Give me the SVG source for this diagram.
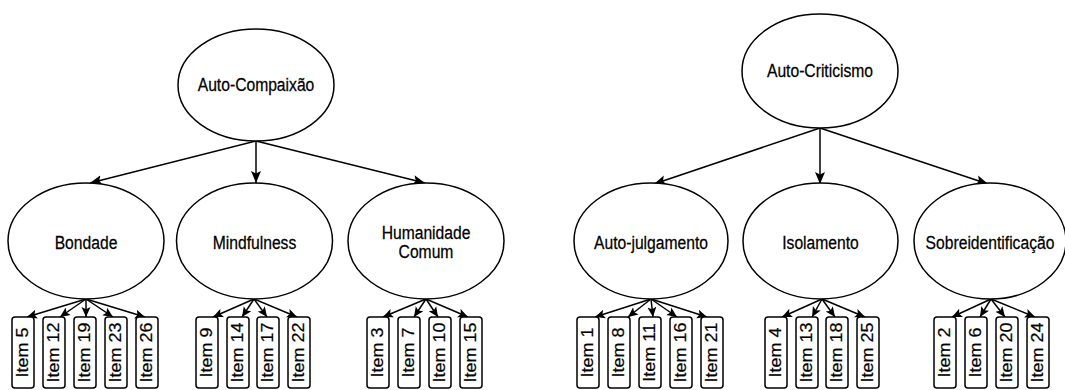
<svg xmlns="http://www.w3.org/2000/svg" width="1065" height="390" viewBox="0 0 1065 390">
  <style>
    .latent { fill: #ffffff; stroke: #000000; stroke-width: 1.5; }
    .item { fill: #ffffff; stroke: #000000; stroke-width: 1.5; }
    .lbl { font-family: "Liberation Sans", Arial, sans-serif; font-size: 18px; fill: #000000; stroke: #000000; stroke-width: 0.25; text-anchor: middle; dominant-baseline: central; }
    .edge { fill: none; stroke: #000000; stroke-width: 1.5; }
    .big { marker-end: url(#headBig); }
    .small { marker-end: url(#headSmall); }
  </style>
  <defs>
    <marker id="headBig" markerUnits="userSpaceOnUse" markerWidth="13" markerHeight="11" refX="12" refY="5.5" orient="auto">
      <path d="M0,0.5 L12,5.5 L0,10.5 L2.5,5.5 Z" fill="#000000"/>
    </marker>
    <marker id="headSmall" markerUnits="userSpaceOnUse" markerWidth="11" markerHeight="10" refX="10" refY="5" orient="auto">
      <path d="M0,0.5 L10,5 L0,9.5 L2.2,5 Z" fill="#000000"/>
    </marker>
  </defs>

  <!-- connectors -->
  <g id="connectors">
    <!-- Auto-Compaixão to its facets -->
    <line class="edge big" x1="256" y1="141" x2="90" y2="183"/>
    <line class="edge big" x1="256" y1="141" x2="256" y2="183"/>
    <line class="edge big" x1="256" y1="141" x2="425" y2="183"/>
    <!-- Auto-Criticismo to its facets -->
    <line class="edge big" x1="820" y1="128" x2="654" y2="184"/>
    <line class="edge big" x1="820" y1="128" x2="820" y2="184"/>
    <line class="edge big" x1="820" y1="128" x2="988" y2="184"/>
    <!-- Bondade items -->
    <line class="edge small" x1="86" y1="299" x2="27" y2="317"/>
    <line class="edge small" x1="86" y1="299" x2="60" y2="317"/>
    <line class="edge small" x1="86" y1="299" x2="86" y2="317"/>
    <line class="edge small" x1="86" y1="299" x2="113" y2="317"/>
    <line class="edge small" x1="86" y1="299" x2="145" y2="317"/>
    <!-- Mindfulness items -->
    <line class="edge small" x1="254" y1="299" x2="213" y2="317"/>
    <line class="edge small" x1="254" y1="299" x2="242" y2="317"/>
    <line class="edge small" x1="254" y1="299" x2="267" y2="317"/>
    <line class="edge small" x1="254" y1="299" x2="297" y2="317"/>
    <!-- Humanidade Comum items -->
    <line class="edge small" x1="426" y1="299" x2="383" y2="317"/>
    <line class="edge small" x1="426" y1="299" x2="414" y2="317"/>
    <line class="edge small" x1="426" y1="299" x2="438" y2="317"/>
    <line class="edge small" x1="426" y1="299" x2="468" y2="317"/>
    <!-- Auto-julgamento items -->
    <line class="edge small" x1="651" y1="299" x2="595" y2="317"/>
    <line class="edge small" x1="651" y1="299" x2="628" y2="317"/>
    <line class="edge small" x1="651" y1="299" x2="653" y2="317"/>
    <line class="edge small" x1="651" y1="299" x2="677" y2="317"/>
    <line class="edge small" x1="651" y1="299" x2="707" y2="317"/>
    <!-- Isolamento items -->
    <line class="edge small" x1="822" y1="299" x2="782" y2="317"/>
    <line class="edge small" x1="822" y1="299" x2="812" y2="317"/>
    <line class="edge small" x1="822" y1="299" x2="835" y2="317"/>
    <line class="edge small" x1="822" y1="299" x2="865" y2="317"/>
    <!-- Sobreidentificação items -->
    <line class="edge small" x1="991" y1="299" x2="952" y2="317"/>
    <line class="edge small" x1="991" y1="299" x2="980" y2="317"/>
    <line class="edge small" x1="991" y1="299" x2="1005" y2="317"/>
    <line class="edge small" x1="991" y1="299" x2="1035" y2="317"/>
  </g>

  <!-- second-order factors -->
  <g id="auto-compaixao">
    <ellipse class="latent" cx="256" cy="85" rx="78" ry="56"/>
    <text class="lbl" transform="translate(256 85) scale(0.87 1)">Auto-Compaixão</text>
  </g>
  <g id="auto-criticismo">
    <ellipse class="latent" cx="820" cy="71" rx="78" ry="57"/>
    <text class="lbl" transform="translate(820 71) scale(0.87 1)">Auto-Criticismo</text>
  </g>

  <!-- first-order factors -->
  <g id="bondade">
    <ellipse class="latent" cx="86" cy="241" rx="78" ry="58"/>
    <text class="lbl" transform="translate(86 243) scale(0.87 1)">Bondade</text>
  </g>
  <g id="mindfulness">
    <ellipse class="latent" cx="254.5" cy="241" rx="78" ry="58"/>
    <text class="lbl" transform="translate(254.5 243) scale(0.87 1)">Mindfulness</text>
  </g>
  <g id="humanidade-comum">
    <ellipse class="latent" cx="426" cy="241" rx="78" ry="58"/>
    <text class="lbl" transform="translate(426 233) scale(0.87 1)">Humanidade</text>
    <text class="lbl" transform="translate(426 252) scale(0.87 1)">Comum</text>
  </g>
  <g id="auto-julgamento">
    <ellipse class="latent" cx="651" cy="241" rx="77" ry="58"/>
    <text class="lbl" transform="translate(651 243) scale(0.87 1)">Auto-julgamento</text>
  </g>
  <g id="isolamento">
    <ellipse class="latent" cx="820.5" cy="241" rx="77.5" ry="58"/>
    <text class="lbl" transform="translate(820.5 243) scale(0.87 1)">Isolamento</text>
  </g>
  <g id="sobreidentificacao">
    <ellipse class="latent" cx="990" cy="241" rx="76" ry="58"/>
    <text class="lbl" transform="translate(990 243) scale(0.87 1)">Sobreidentificação</text>
  </g>

  <!-- observed items -->
  <g id="item-5"><rect class="item" x="12" y="317" width="22" height="71" rx="3"/><text class="lbl" transform="translate(23 352.5) scale(0.87 1) rotate(-90)">Item 5</text></g>
  <g id="item-12"><rect class="item" x="43" y="317" width="22" height="71" rx="3"/><text class="lbl" transform="translate(54 352.5) scale(0.87 1) rotate(-90)">Item 12</text></g>
  <g id="item-19"><rect class="item" x="74" y="317" width="22" height="71" rx="3"/><text class="lbl" transform="translate(85 352.5) scale(0.87 1) rotate(-90)">Item 19</text></g>
  <g id="item-23"><rect class="item" x="105" y="317" width="22" height="71" rx="3"/><text class="lbl" transform="translate(116 352.5) scale(0.87 1) rotate(-90)">Item 23</text></g>
  <g id="item-26"><rect class="item" x="136" y="317" width="22" height="71" rx="3"/><text class="lbl" transform="translate(147 352.5) scale(0.87 1) rotate(-90)">Item 26</text></g>

  <g id="item-9"><rect class="item" x="196" y="317" width="22" height="71" rx="3"/><text class="lbl" transform="translate(207 352.5) scale(0.87 1) rotate(-90)">Item 9</text></g>
  <g id="item-14"><rect class="item" x="227" y="317" width="22" height="71" rx="3"/><text class="lbl" transform="translate(238 352.5) scale(0.87 1) rotate(-90)">Item 14</text></g>
  <g id="item-17"><rect class="item" x="257" y="317" width="22" height="71" rx="3"/><text class="lbl" transform="translate(268 352.5) scale(0.87 1) rotate(-90)">Item 17</text></g>
  <g id="item-22"><rect class="item" x="288" y="317" width="22" height="71" rx="3"/><text class="lbl" transform="translate(299 352.5) scale(0.87 1) rotate(-90)">Item 22</text></g>

  <g id="item-3"><rect class="item" x="367" y="317" width="22" height="71" rx="3"/><text class="lbl" transform="translate(378 352.5) scale(0.87 1) rotate(-90)">Item 3</text></g>
  <g id="item-7"><rect class="item" x="398" y="317" width="22" height="71" rx="3"/><text class="lbl" transform="translate(409 352.5) scale(0.87 1) rotate(-90)">Item 7</text></g>
  <g id="item-10"><rect class="item" x="429" y="317" width="22" height="71" rx="3"/><text class="lbl" transform="translate(440 352.5) scale(0.87 1) rotate(-90)">Item 10</text></g>
  <g id="item-15"><rect class="item" x="460" y="317" width="22" height="71" rx="3"/><text class="lbl" transform="translate(471 352.5) scale(0.87 1) rotate(-90)">Item 15</text></g>

  <g id="item-1"><rect class="item" x="577" y="317" width="22" height="71" rx="3"/><text class="lbl" transform="translate(588 352.5) scale(0.87 1) rotate(-90)">Item 1</text></g>
  <g id="item-8"><rect class="item" x="608" y="317" width="22" height="71" rx="3"/><text class="lbl" transform="translate(619 352.5) scale(0.87 1) rotate(-90)">Item 8</text></g>
  <g id="item-11"><rect class="item" x="639" y="317" width="22" height="71" rx="3"/><text class="lbl" transform="translate(650 352.5) scale(0.87 1) rotate(-90)">Item 11</text></g>
  <g id="item-16"><rect class="item" x="670" y="317" width="22" height="71" rx="3"/><text class="lbl" transform="translate(681 352.5) scale(0.87 1) rotate(-90)">Item 16</text></g>
  <g id="item-21"><rect class="item" x="701" y="317" width="22" height="71" rx="3"/><text class="lbl" transform="translate(712 352.5) scale(0.87 1) rotate(-90)">Item 21</text></g>

  <g id="item-4"><rect class="item" x="765" y="317" width="22" height="71" rx="3"/><text class="lbl" transform="translate(776 352.5) scale(0.87 1) rotate(-90)">Item 4</text></g>
  <g id="item-13"><rect class="item" x="796" y="317" width="22" height="71" rx="3"/><text class="lbl" transform="translate(807 352.5) scale(0.87 1) rotate(-90)">Item 13</text></g>
  <g id="item-18"><rect class="item" x="826" y="317" width="22" height="71" rx="3"/><text class="lbl" transform="translate(837 352.5) scale(0.87 1) rotate(-90)">Item 18</text></g>
  <g id="item-25"><rect class="item" x="857" y="317" width="22" height="71" rx="3"/><text class="lbl" transform="translate(868 352.5) scale(0.87 1) rotate(-90)">Item 25</text></g>

  <g id="item-2"><rect class="item" x="934" y="317" width="22" height="71" rx="3"/><text class="lbl" transform="translate(945 352.5) scale(0.87 1) rotate(-90)">Item 2</text></g>
  <g id="item-6"><rect class="item" x="965" y="317" width="22" height="71" rx="3"/><text class="lbl" transform="translate(976 352.5) scale(0.87 1) rotate(-90)">Item 6</text></g>
  <g id="item-20"><rect class="item" x="996" y="317" width="22" height="71" rx="3"/><text class="lbl" transform="translate(1007 352.5) scale(0.87 1) rotate(-90)">Item 20</text></g>
  <g id="item-24"><rect class="item" x="1027" y="317" width="22" height="71" rx="3"/><text class="lbl" transform="translate(1038 352.5) scale(0.87 1) rotate(-90)">Item 24</text></g>
</svg>
